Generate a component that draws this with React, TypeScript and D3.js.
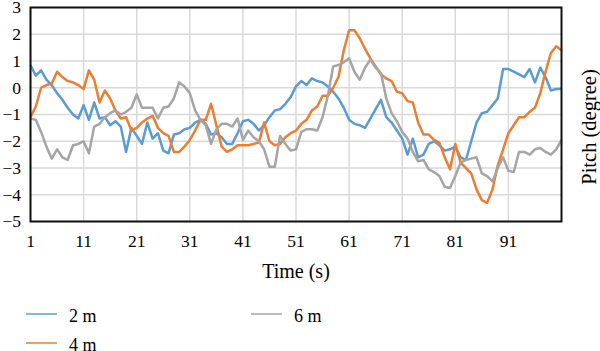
import React, { useEffect, useRef } from 'react';
import * as d3 from 'd3';

// pitch in degrees, one value per second (t = 1..101)
const pitch2m = [
  0.85, 0.45, 0.65, 0.3, 0.1, -0.2, -0.45, -0.75, -1.0, -1.15,
  -0.65, -1.2, -0.55, -1.15, -1.1, -1.4, -1.25, -1.45, -2.4, -1.5,
  -1.8, -2.1, -1.3, -1.9, -1.7, -2.35, -2.45, -1.75, -1.7, -1.55,
  -1.5, -1.3, -1.2, -1.35, -1.75, -1.7, -1.85, -2.1, -2.1, -1.7,
  -1.25, -1.2, -1.35, -1.6, -1.4, -1.1, -0.85, -0.8, -0.6, -0.35,
  0.05, 0.25, 0.1, 0.35, 0.25, 0.2, 0.05, -0.15, -0.4, -0.75,
  -1.2, -1.35, -1.4, -1.5, -1.15, -0.8, -0.45, -1.1, -1.3, -1.6,
  -1.9, -2.5, -1.9, -2.6, -2.5, -2.1, -2.0, -2.15, -2.35, -2.3,
  -2.2, -2.6, -2.7, -2.0, -1.3, -0.95, -0.9, -0.65, -0.4, 0.7,
  0.7, 0.6, 0.5, 0.4, 0.7, 0.2, 0.75, 0.4, -0.1, -0.05,
  -0.05,
];

const pitch4m = [
  -1.1, -0.7, 0.0, 0.1, 0.15, 0.6, 0.4, 0.25, 0.2, 0.1,
  -0.05, 0.65, 0.3, -0.55, -0.1, -0.4, -0.85, -1.15, -1.1, -1.6,
  -1.5, -1.3, -1.15, -1.05, -1.5, -1.7, -1.8, -2.4, -2.4, -2.2,
  -1.95, -1.6, -1.2, -1.2, -0.6, -1.4, -2.2, -2.4, -2.3, -2.15,
  -2.15, -2.15, -2.1, -2.05, -1.3, -2.0, -2.15, -2.1, -1.85, -1.7,
  -1.6, -1.35, -1.2, -0.85, -0.7, -0.3, -0.3, 0.0, 0.4, 1.4,
  2.15, 2.15, 1.85, 1.45, 1.1, 0.8, 0.5, 0.35, 0.25, -0.15,
  -0.2, -0.5, -0.55, -1.3, -1.75, -1.75, -1.95, -2.05, -2.6, -3.05,
  -2.1, -2.8, -3.0, -3.2, -3.8, -4.2, -4.3, -3.8, -2.9, -2.3,
  -1.7, -1.4, -1.1, -1.1, -0.9, -0.75, -0.2, 0.6, 1.3, 1.55,
  1.4,
];

const pitch6m = [
  -1.15, -1.2, -1.65, -2.2, -2.65, -2.3, -2.6, -2.7, -2.15, -2.1,
  -2.0, -2.45, -1.45, -1.35, -1.1, -0.95, -0.85, -1.0, -0.9, -0.75,
  -0.25, -0.75, -0.75, -0.75, -1.15, -0.75, -0.7, -0.4, 0.2, 0.05,
  -0.2, -0.85, -1.2, -1.4, -2.1, -1.55, -1.35, -1.35, -1.45, -1.15,
  -1.95, -1.6, -1.85, -2.0, -2.3, -2.95, -2.95, -1.8, -2.1, -2.35,
  -2.3, -1.65, -1.55, -1.55, -1.6, -1.1, -0.3, 0.8, 0.85, 0.95,
  1.1, 0.6, 0.3, 0.75, 1.05, 0.75, 0.55, -0.4, -0.95, -1.25,
  -1.65, -1.9, -2.4, -2.75, -2.7, -3.05, -3.15, -3.3, -3.7, -3.75,
  -3.3, -2.8, -2.7, -2.65, -2.6, -3.2, -3.3, -3.5, -3.0, -2.6,
  -3.1, -3.15, -2.4, -2.4, -2.5, -2.3, -2.25, -2.4, -2.5, -2.3,
  -1.95,
];

const seriesNames = ['2 m', '4 m', '6 m'];
const seriesColors = ['#5b9bd5', '#ed7d31', '#a5a5a5'];
const xTicks = [1, 11, 21, 31, 41, 51, 61, 71, 81, 91];
const yTicks = [-5, -4, -3, -2, -1, 0, 1, 2, 3];

const FONT = '"Liberation Serif", "Times New Roman", serif';

const App = () => {
  const svgRef = useRef<SVGSVGElement>(null);

  useEffect(() => {
    const svg = d3.select(svgRef.current);
    svg.selectAll('*').remove();

    const width = 600, height = 351;
    const left = 30.5, right = 561.5, top = 7.5, bottom = 221.5;
    svg.attr('width', width).attr('height', height);

    const series = [pitch2m, pitch4m, pitch6m];
    const times = pitch2m.map((_, i) => i + 1);

    const x = d3.scaleLinear().domain([1, times.length]).range([left, right]);
    const y = d3.scaleLinear().domain([-5, 3]).range([bottom, top]);

    const fmt = (v: number) => (v < 0 ? '\u2212' : '') + Math.abs(v);

    // grid
    const grid = svg.append('g').attr('stroke', '#d9d9d9').attr('stroke-width', 1.5);
    grid.selectAll('line.h')
      .data(yTicks)
      .enter()
      .append('line')
      .attr('x1', left).attr('x2', right)
      .attr('y1', d => y(d)).attr('y2', d => y(d));
    grid.selectAll('line.v')
      .data(xTicks)
      .enter()
      .append('line')
      .attr('x1', d => x(d)).attr('x2', d => x(d))
      .attr('y1', top).attr('y2', bottom);

    // lines
    const line = d3.line<number>()
      .x((_, i) => x(times[i]))
      .y(d => y(d));

    series.forEach((s, k) => {
      svg.append('path')
        .datum(s)
        .attr('d', line)
        .attr('fill', 'none')
        .attr('stroke', seriesColors[k])
        .attr('stroke-width', 2.5)
        .attr('stroke-linejoin', 'round');
    });

    // frame
    svg.append('rect')
      .attr('x', left).attr('y', top)
      .attr('width', right - left).attr('height', bottom - top)
      .attr('fill', 'none')
      .attr('stroke', '#111')
      .attr('stroke-width', 2);

    // tick labels
    svg.append('g')
      .selectAll('text')
      .data(yTicks)
      .enter()
      .append('text')
      .attr('x', 21)
      .attr('y', d => y(d))
      .attr('dy', '0.34em')
      .attr('text-anchor', 'end')
      .attr('font-family', FONT)
      .attr('font-size', 17.5)
      .text(d => fmt(d));

    svg.append('g')
      .selectAll('text')
      .data(xTicks)
      .enter()
      .append('text')
      .attr('x', d => x(d))
      .attr('y', 247)
      .attr('text-anchor', 'middle')
      .attr('font-family', FONT)
      .attr('font-size', 17.5)
      .text(d => d);

    // axis titles
    svg.append('text')
      .attr('x', (left + right) / 2)
      .attr('y', 278)
      .attr('text-anchor', 'middle')
      .attr('font-family', FONT)
      .attr('font-size', 20)
      .text('Time (s)');

    svg.append('text')
      .attr('transform', 'translate(596, 127) rotate(-90)')
      .attr('text-anchor', 'middle')
      .attr('font-family', FONT)
      .attr('font-size', 20.5)
      .text('Pitch (degree)');

    // legend
    const legendPos = [[26, 314], [26, 343], [251, 314]];
    const legend = svg.append('g')
      .selectAll('g')
      .data(seriesNames)
      .enter()
      .append('g')
      .attr('transform', (d, i) => `translate(${legendPos[i][0]}, ${legendPos[i][1]})`);
    legend.append('line')
      .attr('x1', 0).attr('x2', 31)
      .attr('stroke', (d, i) => seriesColors[i])
      .attr('stroke-width', 1.5);
    legend.append('text')
      .attr('x', 43)
      .attr('y', 7.5)
      .attr('font-family', FONT)
      .attr('font-size', 18)
      .text(d => d);
  }, []);

  return (
    <div style={{ position: 'absolute', left: 0, top: 0, width: '600px', height: '351px', overflow: 'hidden', background: '#fff' }}>
      <svg ref={svgRef}></svg>
    </div>
  );
};

export default App;
